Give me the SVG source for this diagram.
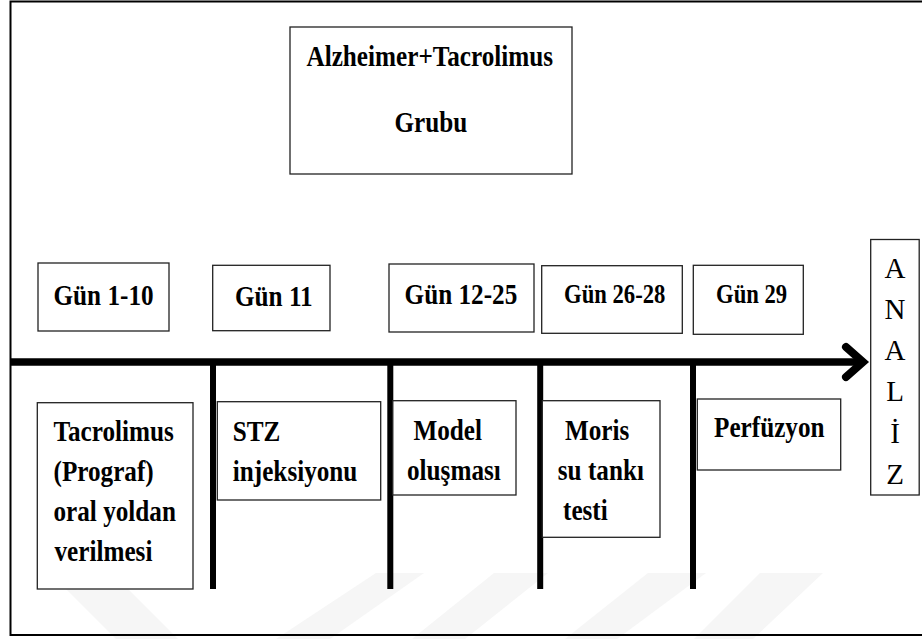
<svg xmlns="http://www.w3.org/2000/svg" width="922" height="639" viewBox="0 0 922 639">
<style>
.box{fill:#fff;stroke:#222;stroke-width:1.3}
.t{font-family:"Liberation Serif","Times New Roman",serif;font-weight:bold;font-size:30px;fill:#000}
.s{font-size:27px}
.r{font-family:"Liberation Serif","Times New Roman",serif;font-weight:normal;font-size:29px;fill:#000;text-anchor:middle}
.ln{stroke:#000;fill:none}
.wm{fill:#f6f6f6}
</style>
<rect x="0" y="0" width="922" height="639" fill="#fff"/>
<g id="watermark">
<polygon class="wm" points="50,573 112,573 178,639 116,639"/>
<polygon class="wm" points="376,573 424,573 330,639 276,639"/>
<polygon class="wm" points="494,573 548,573 465,639 412,639"/>
<polygon class="wm" points="648,573 706,573 617,639 565,639"/>
<polygon class="wm" points="760,573 823,573 753,639 694,639"/>
</g>
<path d="M924 1.5 H10.5 V635 H924" fill="none" stroke="#000" stroke-width="2"/>
<g id="connectors">
<line class="ln" x1="10" y1="362" x2="862" y2="362" stroke-width="7.5"/>
<polyline class="ln" points="846,347 863,362 846,377" stroke-width="8" stroke-linecap="round" stroke-linejoin="miter"/>
<line class="ln" x1="213" y1="362" x2="213" y2="589" stroke-width="6"/>
<line class="ln" x1="390.3" y1="362" x2="390.3" y2="589" stroke-width="6"/>
<line class="ln" x1="540.2" y1="362" x2="540.2" y2="589" stroke-width="6"/>
<line class="ln" x1="693" y1="362" x2="693" y2="589" stroke-width="6"/>
</g>
<g id="title">
<rect class="box" x="290" y="27" width="282" height="147"/>
<text class="t" transform="translate(306.5,66) scale(0.84,1)">Alzheimer+Tacrolimus</text>
<text class="t" transform="translate(394.5,132) scale(0.84,1)">Grubu</text>
</g>
<g id="gun1-10">
<rect class="box" x="38" y="263" width="131" height="68"/>
<text class="t" transform="translate(53.5,305) scale(0.84,1)">Gün 1-10</text>
</g>
<g id="gun11">
<rect class="box" x="212.7" y="265.3" width="117.3" height="65.4"/>
<text class="t" transform="translate(235,306) scale(0.84,1)">Gün 11</text>
</g>
<g id="gun12-25">
<rect class="box" x="389" y="264" width="145" height="68"/>
<text class="t" transform="translate(404.6,304) scale(0.84,1)">Gün 12-25</text>
</g>
<g id="gun26-28">
<rect class="box" x="541.7" y="265.7" width="140.6" height="67.6"/>
<text class="t s" transform="translate(564,303) scale(0.84,1)">Gün 26-28</text>
</g>
<g id="gun29">
<rect class="box" x="693.3" y="265.3" width="110" height="69"/>
<text class="t s" transform="translate(716,303) scale(0.84,1)">Gün 29</text>
</g>
<g id="analiz">
<rect class="box" x="870.7" y="239.5" width="48.5" height="255.5"/>
<text class="r" x="895" y="278">A</text>
<text class="r" x="895" y="319">N</text>
<text class="r" x="895" y="360">A</text>
<text class="r" x="895" y="401">L</text>
<text class="r" x="895" y="443">İ</text>
<text class="r" x="895" y="484">Z</text>
</g>
<g id="tacrolimus">
<rect class="box" x="37.3" y="402.7" width="155.7" height="186.3"/>
<text class="t" transform="translate(53.5,441) scale(0.84,1)">Tacrolimus</text>
<text class="t" transform="translate(53.5,481) scale(0.84,1)">(Prograf)</text>
<text class="t" transform="translate(53.5,521) scale(0.84,1)">oral yoldan</text>
<text class="t" transform="translate(54.5,561) scale(0.84,1)">verilmesi</text>
</g>
<g id="stz">
<rect class="box" x="217.3" y="401.7" width="163.4" height="98.3"/>
<text class="t" transform="translate(232.8,441) scale(0.84,1)">STZ</text>
<text class="t" transform="translate(232.8,481) scale(0.84,1)">injeksiyonu</text>
</g>
<g id="model">
<rect class="box" x="392.8" y="400.7" width="123.2" height="94.3"/>
<text class="t" transform="translate(413.4,440) scale(0.84,1)">Model</text>
<text class="t" transform="translate(407,480) scale(0.84,1)">oluşması</text>
</g>
<g id="moris">
<rect class="box" x="542.3" y="400.7" width="117.7" height="136.6"/>
<text class="t" transform="translate(565,440) scale(0.84,1)">Moris</text>
<text class="t" transform="translate(557.8,480) scale(0.84,1)">su tankı</text>
<text class="t" transform="translate(563,520) scale(0.84,1)">testi</text>
</g>
<g id="perfuzyon">
<rect class="box" x="697.3" y="399" width="143.4" height="71"/>
<text class="t" transform="translate(714,437) scale(0.84,1)">Perfüzyon</text>
</g>
</svg>
